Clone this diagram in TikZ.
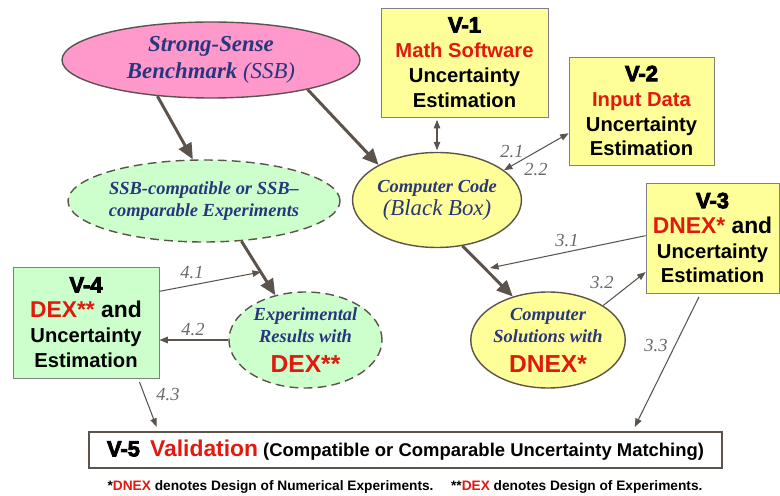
\documentclass[tikz,border=0pt]{standalone}
\usepackage{fontspec}
\setmainfont{Liberation Serif}
\newfontfamily\sansfnt{Liberation Sans}
\newfontfamily\vfnt{Liberation Sans Bold}[FakeBold=4]
\usetikzlibrary{arrows.meta,shapes.geometric}
\definecolor{brd}{RGB}{92,84,76}
\definecolor{boxbrd}{RGB}{128,128,128}
\definecolor{navy}{RGB}{40,55,125}
\definecolor{vred}{RGB}{225,25,15}
\definecolor{pinkfill}{RGB}{255,153,204}
\definecolor{yelfill}{RGB}{255,255,153}
\definecolor{grnfill}{RGB}{204,255,204}
\definecolor{lblgray}{RGB}{105,105,105}
\newcommand{\rd}[1]{\textcolor{vred}{#1}}
\newcommand{\vlbl}[1]{{\vfnt\fontsize{12.5}{14}\selectfont #1}}
\tikzset{
  vbox/.style     = {draw=boxbrd, thin, fill=yelfill, align=center, inner sep=0pt,
                     font=\sansfnt\bfseries\fontsize{11.5}{14.2}\selectfont},
  ellsolid/.style = {ellipse, draw=brd, thick, align=center, inner sep=0pt,
                     text=navy, font=\bfseries\itshape\fontsize{10.5}{12.8}\selectfont},
  elldash/.style  = {ellsolid, fill=grnfill, dashed, dash pattern=on 5pt off 3pt},
  thickar/.style  = {-{Triangle[length=3.2mm,width=2.8mm]}, brd, line width=1.7pt},
  thinar/.style   = {-{Triangle[length=1.7mm,width=1.3mm]}, brd, line width=0.6pt},
  thinboth/.style = {{Triangle[length=1.7mm,width=1.3mm]}-{Triangle[length=1.7mm,width=1.3mm]},
                     brd, line width=0.6pt},
  lbl/.style      = {font=\itshape\fontsize{10.5}{12}\selectfont, text=lblgray, inner sep=0pt}
}

\begin{document}
\begin{tikzpicture}[x=0.2mm, y=-0.2mm]
  \useasboundingbox (0,0) rectangle (780,496);
  % ellipses
  \node[ellsolid, fill=pinkfill, minimum width=59.6mm, minimum height=15.2mm,
        font=\bfseries\itshape\fontsize{13}{15.5}\selectfont] (ssb) at (211,60)
        {Strong-Sense\\Benchmark {\mdseries(SSB)}};
  \node[elldash, minimum width=54.4mm, minimum height=16.4mm] (ssbc) at (204,201)
        {SSB-compatible or SSB--\\comparable Experiments};
  \node[ellsolid, fill=yelfill, minimum width=30.4mm, minimum height=19mm] (code) at (437,200)
        {Computer Code\\{\mdseries\fontsize{13}{14}\selectfont(Black Box)}};
  \node[elldash, minimum width=30.6mm, minimum height=19.2mm] (exres) at (305.5,340)
        {Experimental\\Results with\\[4pt]{\sansfnt\upshape\bfseries\color{vred}\fontsize{14}{14}\selectfont DEX**}};
  \node[ellsolid, fill=yelfill, minimum width=30.4mm, minimum height=19.2mm] (compsol) at (548,340)
        {Computer\\Solutions with\\[4pt]{\sansfnt\upshape\bfseries\color{vred}\fontsize{14}{14}\selectfont DNEX*}};
  % boxes
  \node[vbox, minimum width=33.4mm, minimum height=21.8mm] (v1) at (464.5,62.5)
        {\vlbl{V-1}\\\rd{Math Software}\\Uncertainty\\Estimation};
  \node[vbox, minimum width=29mm, minimum height=21.6mm] (v2) at (641.5,111)
        {\vlbl{V-2}\\\rd{Input Data}\\Uncertainty\\Estimation};
  \node[vbox, minimum width=26.6mm, minimum height=22mm] (v3) at (712.5,238)
        {\vlbl{V-3}\\{\fontsize{13}{14}\selectfont\rd{DNEX*} and}\\Uncertainty\\Estimation};
  \node[vbox, fill=grnfill, minimum width=29.2mm, minimum height=22.2mm] (v4) at (86,322.5)
        {\vlbl{V-4}\\{\fontsize{13}{14}\selectfont\rd{DEX**} and}\\Uncertainty\\Estimation};
  \node[vbox, draw=brd, line width=1.6pt, fill=white, minimum width=126.6mm, minimum height=7.2mm,
        font=\sansfnt\bfseries\fontsize{10.5}{12}\selectfont] (v5) at (405.5,450)
        {\vlbl{V-5}\ \ \rd{\fontsize{13}{14}\selectfont Validation} (Compatible or Comparable Uncertainty Matching)};
  \node[font=\sansfnt\bfseries\fontsize{7.8}{9}\selectfont, inner sep=0pt] (note) at (405,487)
        {*\rd{DNEX} denotes Design of Numerical Experiments.\quad\ **\rd{DEX} denotes Design of Experiments.};
  % thick arrows
  \draw[thickar] (ssb.214) -- (ssbc.105);
  \draw[thickar] (ssb.343) -- (code.149);
  \draw[thickar] (ssbc.313) -- (exres.124);
  \draw[thickar] (code.299) -- (compsol.129);
  % thin arrows
  \coordinate (a31) at (490,268);
  \coordinate (a41) at (261,272);
  \draw[thinboth, shorten <=0.5mm, shorten >=0.3mm] (code.north |- v1.south) -- (code.north);
  \draw[thinboth] (code.24) -- (v2.197);
  \draw[thinar] (v3.178) -- (a31);
  \draw[thinar] (compsol.32) -- (v3.207);
  \draw[thinar, shorten <=0.8mm, shorten >=0.8mm] (v3.258) -- ([xshift=45.5mm]v5.north);
  \draw[thinar] (v4.23) -- (a41);
  \draw[thinar] (exres.west) -- (exres.west -| v4.east);
  \draw[thinar, shorten <=0.8mm, shorten >=0.8mm] (v4.313) -- ([xshift=-49.5mm]v5.north);
  % labels
  \node[lbl] (l21) at (512,152) {2.1};
  \node[lbl] (l22) at (536,170) {2.2};
  \node[lbl] (l31) at (567,241) {3.1};
  \node[lbl] (l32) at (602,283) {3.2};
  \node[lbl] (l33) at (656,346) {3.3};
  \node[lbl] (l41) at (192,273) {4.1};
  \node[lbl] (l42) at (193,330) {4.2};
  \node[lbl] (l43) at (168,395) {4.3};
\end{tikzpicture}
\end{document}
